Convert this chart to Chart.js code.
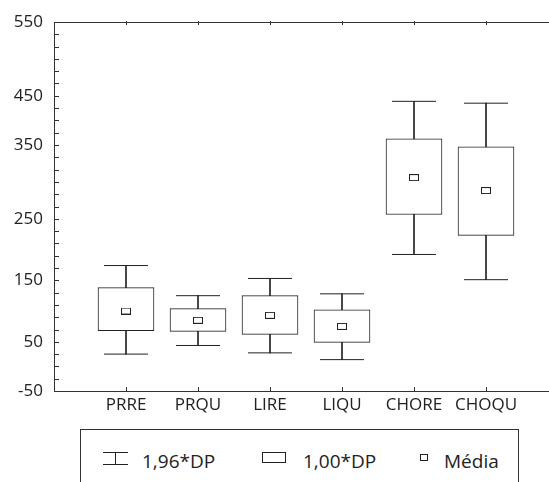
<!DOCTYPE html>
<html lang="pt">
<head>
  <meta charset="UTF-8">
  <title>Box plot</title>
  <script src="https://cdn.jsdelivr.net/npm/chart.js"></script>
  <style>
    body { margin: 0; background: #fff; font-family: 'Open Sans', sans-serif; color: #222; }
    #wrap { position: relative; width: 549px; height: 482px; overflow: hidden; }
    #chartBox { position: absolute; left: 0; top: 0; width: 549px; height: 420px; }
    #legend {
      position: absolute; left: 80px; top: 429px; width: 437px; height: 70px;
      border: 1px solid #333;
    }
    #legend svg, #legend span { position: absolute; }
    #legend span { font-size: 19px; line-height: 22px; top: 20px; }
  </style>
</head>
<body>
<div id="wrap">
  <div id="chartBox"><canvas id="boxChart"></canvas></div>
  <div id="legend">
    <svg style="left:21px;top:21px" width="27" height="15">
      <path d="M1 1.5H26M13.5 1.5V13.5M1 13.5H26" stroke="#222" stroke-width="1" fill="none"/>
    </svg>
    <span style="left:61px">1,96*DP</span>
    <svg style="left:181px;top:22px" width="25" height="12">
      <rect x="0.5" y="0.5" width="23" height="10" stroke="#222" fill="none"/>
    </svg>
    <span style="left:222px">1,00*DP</span>
    <svg style="left:339px;top:24px" width="8" height="8">
      <rect x="0.5" y="0.5" width="7" height="6" stroke="#222" fill="none"/>
    </svg>
    <span style="left:363px">Média</span>
  </div>
</div>

<script>
  // dados
  const categories = ['PRRE', 'PRQU', 'LIRE', 'LIQU', 'CHORE', 'CHOQU'];
  const means      = [80, 65, 73, 55, 297, 276];
  const boxLow     = [48, 47, 42, 29, 237, 203];   // média - 1,00*DP
  const boxHigh    = [118, 84, 105, 82, 360, 347];  // média + 1,00*DP
  const whiskLow   = [10, 24, 12, 1, 172, 131];    // média - 1,96*DP
  const whiskHigh  = [154, 105, 133, 108, 421, 418]; // média + 1,96*DP

  // eixo y (os rótulos do original não caem nas posições dos valores)
  const yMin = -50, yMax = 550, yMinorStep = 20;
  const yTickValues = [550, 430, 350, 230, 130, 30, -50];
  const yTickLabels = ['550', '450', '350', '250', '150', '50', '-50'];
  const xMax = 6.875;

  const ink = '#222';
  const pos = categories.map((c, i) => i + 1);

  // quadradinho da média (9x6)
  const meanMark = document.createElement('canvas');
  meanMark.width = 10; meanMark.height = 7;
  const mctx = meanMark.getContext('2d');
  mctx.strokeStyle = ink; mctx.lineWidth = 1;
  mctx.strokeRect(0.5, 0.5, 9, 6);

  // marcas de escala para dentro + linha de cima
  const axisMarks = {
    id: 'axisMarks',
    afterDatasetsDraw(chart) {
      const { ctx, chartArea: a, scales: { x, y } } = chart;
      ctx.save();
      ctx.strokeStyle = '#333';
      ctx.lineWidth = 1;
      ctx.beginPath();
      ctx.moveTo(a.left, Math.round(a.top) + 0.5);
      ctx.lineTo(a.right, Math.round(a.top) + 0.5);
      for (let v = yMin + yMinorStep; v < yMax; v += yMinorStep) {
        const py = Math.round(y.getPixelForValue(v)) + 0.5;
        ctx.moveTo(a.left, py);
        ctx.lineTo(a.left + 5, py);
      }
      pos.forEach(p => {
        const px = Math.round(x.getPixelForValue(p)) + 0.5;
        ctx.moveTo(px, a.bottom);
        ctx.lineTo(px, a.bottom - 4);
        ctx.moveTo(px, a.top - 1);
        ctx.lineTo(px, a.top + 3);
      });
      ctx.stroke();
      ctx.restore();
    }
  };

  new Chart(document.getElementById('boxChart'), {
    type: 'bar',
    data: {
      datasets: [
        {
          type: 'line',
          label: 'Média',
          data: pos.map((p, i) => ({ x: p, y: means[i] })),
          showLine: false,
          pointStyle: meanMark,
          pointRadius: 5,
          order: 0
        },
        {
          type: 'line',
          label: 'cap high',
          data: pos.map((p, i) => ({ x: p, y: whiskHigh[i] })),
          showLine: false,
          pointStyle: 'line',
          pointRadius: 22,
          borderColor: ink,
          borderWidth: 1,
          order: 1
        },
        {
          type: 'line',
          label: 'cap low',
          data: pos.map((p, i) => ({ x: p, y: whiskLow[i] })),
          showLine: false,
          pointStyle: 'line',
          pointRadius: 22,
          borderColor: ink,
          borderWidth: 1,
          order: 1
        },
        {
          label: '1,00*DP',
          data: pos.map((p, i) => ({ x: p, y: [boxLow[i], boxHigh[i]] })),
          backgroundColor: '#fff',
          borderColor: ink,
          borderWidth: 1,
          borderSkipped: false,
          barThickness: 56,
          grouped: false,
          order: 2
        },
        {
          label: '1,96*DP',
          data: pos.map((p, i) => ({ x: p, y: [whiskLow[i], whiskHigh[i]] })),
          backgroundColor: ink,
          borderWidth: 0,
          barThickness: 1,
          grouped: false,
          order: 3
        }
      ]
    },
    options: {
      responsive: true,
      maintainAspectRatio: false,
      animation: false,
      events: [],
      layout: { autoPadding: false, padding: { top: 22, right: 0, bottom: 0, left: 0 } },
      plugins: {
        legend: { display: false },
        tooltip: { enabled: false }
      },
      scales: {
        x: {
          type: 'linear',
          offset: false,
          min: 0,
          max: xMax,
          afterBuildTicks: s => { s.ticks = pos.map(v => ({ value: v })); },
          afterFit: s => { s.height = 29; s.paddingLeft = 0; s.paddingRight = 0; },
          grid: { display: false, drawTicks: false },
          border: { display: true, color: '#333', width: 1 },
          ticks: {
            autoSkip: false,
            maxRotation: 0,
            padding: 4,
            color: ink,
            font: { family: 'Open Sans', size: 17 },
            callback: v => categories[v - 1] || ''
          }
        },
        y: {
          min: yMin,
          max: yMax,
          afterBuildTicks: s => { s.ticks = yTickValues.map(v => ({ value: v })); },
          afterFit: s => { s.width = 54; },
          grid: { display: false, drawTicks: false },
          border: { display: true, color: '#333', width: 1 },
          ticks: {
            padding: 11,
            color: ink,
            font: { family: 'Open Sans', size: 17 },
            callback: v => yTickLabels[yTickValues.indexOf(v)]
          }
        }
      }
    },
    plugins: [axisMarks]
  });
</script>
</body>
</html>
